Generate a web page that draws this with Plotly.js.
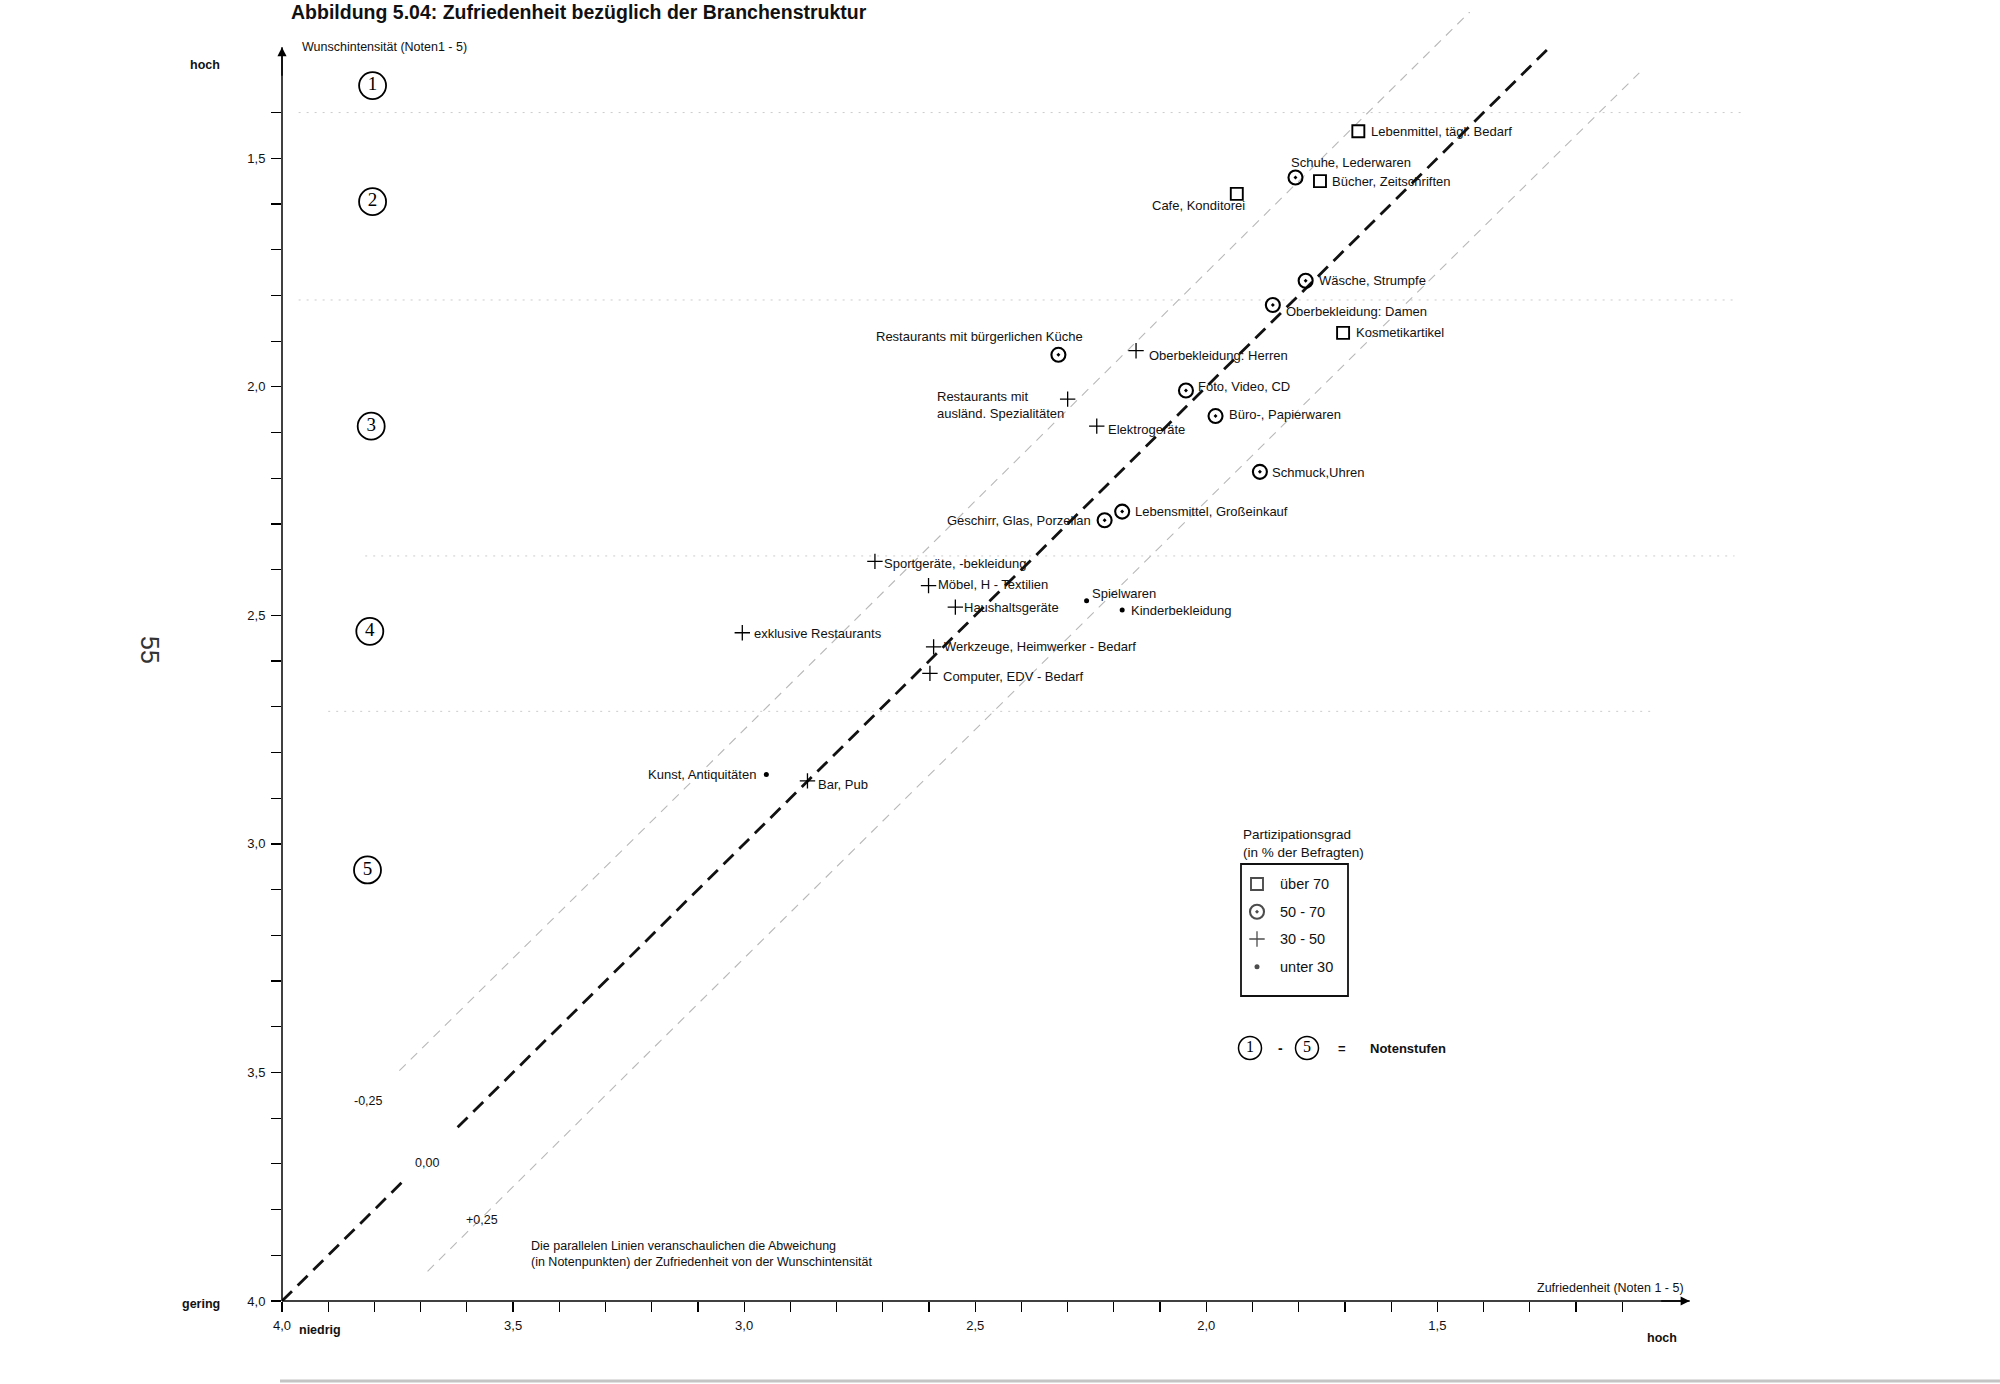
<!DOCTYPE html>
<html><head><meta charset="utf-8">
<script src="https://cdn.plot.ly/plotly-3.0.1.min.js"></script>
<style>html,body{margin:0;padding:0;background:#fff}#chart{width:2000px;height:1384px}</style>
</head><body><div id="chart"></div>
<script>
// ---- data ----
const branches = [
  'Lebenmittel, tägl. Bedarf','Schuhe, Lederwaren','Bücher, Zeitschriften','Cafe, Konditorei',
  'Wäsche, Strumpfe','Oberbekleidung: Damen','Kosmetikartikel','Restaurants mit bürgerlichen Küche',
  'Oberbekleidung: Herren','Foto, Video, CD','Restaurants mit<br>ausländ. Spezialitäten','Büro-, Papierwaren',
  'Elektrogeräte','Schmuck,Uhren','Lebensmittel, Großeinkauf','Geschirr, Glas, Porzellan',
  'Sportgeräte, -bekleidung','Möbel, H - Textilien','Haushaltsgeräte','Spielwaren',
  'Kinderbekleidung','exklusive Restaurants','Werkzeuge, Heimwerker - Bedarf','Computer, EDV - Bedarf',
  'Kunst, Antiquitäten','Bar, Pub'
];
const satisfaction = [1.671,1.807,1.754,1.934,1.785,1.856,1.704,2.320,2.152,2.044,2.300,1.980,2.237,1.884,2.182,2.220,2.717,2.601,2.543,2.259,2.182,3.004,2.590,2.598,2.952,2.863];
const desire       = [1.441,1.542,1.550,1.578,1.768,1.821,1.882,1.930,1.921,2.008,2.027,2.064,2.086,2.186,2.273,2.292,2.382,2.435,2.482,2.468,2.488,2.538,2.569,2.627,2.848,2.862];
const participation = [0,1,0,0,1,1,0,1,2,1,2,1,2,1,1,1,2,2,2,3,3,2,2,2,3,2];
const groupNames = ['über 70','50 - 70','30 - 50','unter 30'];

const noteLabels = ['1','2','3','4','5'];
const noteX = [3.804,3.804,3.807,3.810,3.815];
const noteY = [1.341,1.595,2.086,2.535,3.057];

const bandBounds = [1.40,1.81,2.37,2.71];
const bandFrom   = [3.964,3.964,3.82,3.90];
const bandTo     = [0.84,0.857,0.857,1.03];

const deviations = [-0.25,0,0.25];
const devLabels  = ['-0,25','0,00','+0,25'];

const xTickLabelVals = [4.0,3.5,3.0,2.5,2.0,1.5];
const xTickLabels    = ['4,0','3,5','3,0','2,5','2,0','1,5'];
const yTickLabelVals = [1.5,2.0,2.5,3.0,3.5,4.0];
const yTickLabels    = ['1,5','2,0','2,5','3,0','3,5','4,0'];

// ---- styling / geometry ----
const FONT = 'Liberation Sans, Arial, Helvetica, sans-serif';
const SERIF = 'Liberation Serif, Times New Roman, serif';
const M = {l:282, r:253, t:12, b:83};
const W = 2000, H = 1384;
const PW = W - M.l - M.r, PH = H - M.t - M.b;
const xRange = [4.0, 0.83], yRange = [4.0, 1.18];
const xArrow = 0.954, yArrow = 1.257;
const px = v => (v - M.l) / PW;           // pixel -> paper x
const py = v => (H - M.b - v) / PH;       // pixel -> paper y

// label placement (anchor, dx, dy in px)
const labelPlace = [
  ['left',11,0],['left',-6,15],['left',10,0],['right',10,-12],
  ['left',11,0],['left',11,-6],['left',11,0],['right',27,18],
  ['left',11,-5],['left',10,4],['right',-2,-6],['left',11,2],
  ['left',9,-3],['left',10,-1],['left',11,0],['right',-12,0],
  ['left',7,-2],['left',7,1],['left',7,0],['left',3,7],
  ['left',7,-1],['left',10,-1],['left',8,0],['left',11,-3],
  ['right',-8,0],['left',9,-4]
];

const symbols = ['square-open','circle-open-dot','cross-thin-open','circle'];
const sizes = [12,14,11,5];
const lws = [1.9,2.1,1.3,0];

// ticks
function buildTicks(from, to, labVals, labs){
  const vals=[], txt=[];
  for(let v=from; v>=to; v--){
    const val=v/10; vals.push(val);
    const i = labVals.findIndex(q=>Math.abs(q-val)<1e-6);
    txt.push(i>=0?labs[i]:'');
  }
  return {vals, txt};
}
const xt = buildTicks(40, 11, xTickLabelVals, xTickLabels);
const yt = buildTicks(40, 14, yTickLabelVals, yTickLabels);

const traces = [];

// deviation lines
const devExtent = [[3.746,1.43],[4.0,1.26],[3.685,1.063]];
deviations.forEach((d,i)=>{
  const [a,b] = devExtent[i];
  let xs;
  if(d===0){ xs=[a,3.74,null,3.62,b]; }
  else { xs=[a,b]; }
  const ys = xs.map(v=> v===null?null: v+d);
  traces.push({
    x:xs, y:ys, mode:'lines', hoverinfo:'skip', showlegend:false,
    line: d===0 ? {color:'#111', width:2.8, dash:'14px,8px'} : {color:'#b8b8b8', width:1.1, dash:'9px,7px'}
  });
});

// data points by group
groupNames.forEach((g,gi)=>{
  const idx = participation.map((p,i)=>p===gi?i:-1).filter(i=>i>=0);
  traces.push({
    x: idx.map(i=>satisfaction[i]), y: idx.map(i=>desire[i]),
    mode:'markers', name:g, hoverinfo:'text', text: idx.map(i=>branches[i]), showlegend:false,
    marker:{symbol:symbols[gi], size:sizes[gi], color:'#000', line:{color:'#000', width:lws[gi]}}
  });
});

// Notenstufen circles
traces.push({
  x:noteX, y:noteY, mode:'markers+text', text:noteLabels, textposition:'middle center',
  textfont:{family:SERIF, size:19, color:'#000'}, hoverinfo:'skip', showlegend:false, cliponaxis:false,
  marker:{symbol:'circle-open', size:27, color:'#000', line:{color:'#000', width:1.8}}
});

// legend (overlay pixel axes)
const legY = [884,911.7,939,966.7];
traces.push({
  x:[1257,1257,1257,1257], y:legY, xaxis:'x2', yaxis:'y2', mode:'markers', hoverinfo:'skip', showlegend:false,
  marker:{symbol:symbols, size:sizes, color:'#000', line:{color:'#000', width:lws}}
});
traces.push({
  x:[1250,1307], y:[1048,1048], xaxis:'x2', yaxis:'y2', mode:'markers+text', text:['1','5'],
  textposition:'middle center', textfont:{family:SERIF, size:16, color:'#000'}, hoverinfo:'skip', showlegend:false,
  marker:{symbol:'circle-open', size:23, color:'#000', line:{color:'#000', width:1.5}}
});

const ann = [];
// point labels
branches.forEach((b,i)=>{
  const [xa,dx,dy] = labelPlace[i];
  ann.push({x:satisfaction[i], y:desire[i], xref:'x', yref:'y', text:b, showarrow:false,
    xanchor:xa, yanchor:'middle', xshift:dx, yshift:dy, align:'left',
    font:{family:FONT, size:13, color:'#111'}});
});
// deviation labels
const devLabelPos = [[3.813,3.562],[3.686,3.699],[3.567,3.822]];
devLabels.forEach((t,i)=>ann.push({x:devLabelPos[i][0], y:devLabelPos[i][1], xref:'x', yref:'y', text:t,
  showarrow:false, xanchor:'center', yanchor:'middle', font:{family:FONT, size:12.5, color:'#111'}}));

// generic pixel-positioned text
const txt = (x,y,t,opt={}) => ann.push(Object.assign({x:px(x), y:py(y), xref:'paper', yref:'paper', text:t, showarrow:false,
  xanchor:'center', yanchor:'middle', align:'left', font:{family:FONT, size:12.5, color:'#111'}}, opt));

// legend texts
groupNames.forEach((g,i)=>txt(1278, legY[i], g, {xanchor:'left', font:{family:FONT, size:14.5, color:'#111'}}));
txt(1241, 843, 'Partizipationsgrad<br>(in % der Befragten)', {xanchor:'left', font:{family:FONT, size:13.5, color:'#111'}});
txt(1280, 1048, '<b>-</b>', {font:{family:FONT, size:14, color:'#111'}});
txt(1342, 1048, '<b>=</b>', {font:{family:FONT, size:13, color:'#111'}});
txt(1368, 1048, '<b>Notenstufen</b>', {xanchor:'left', font:{family:FONT, size:13, color:'#111'}});

// axis texts
txt(300,47,'Wunschintensität (Noten1 - 5)',{xanchor:'left'});
txt(205,65,'<b>hoch</b>');
txt(201,1304,'<b>gering</b>');
txt(297,1330,'<b>niedrig</b>',{xanchor:'left'});
txt(1662,1338,'<b>hoch</b>');
txt(1610,1288,'Zufriedenheit (Noten 1 - 5)');
txt(529,1254,'Die parallelen Linien veranschaulichen die Abweichung<br>(in Notenpunkten) der Zufriedenheit von der Wunschintensität',
  {xanchor:'left'});
txt(150,650,'55',{textangle:90, font:{family:FONT, size:25, color:'#333'}});

// axis arrows
const yTopFrac = (yRange[0]-yArrow)/(yRange[0]-yRange[1]);
const xEndFrac = (xRange[0]-xArrow)/(xRange[0]-xRange[1]);
ann.push({x:0, y:yTopFrac, xref:'paper', yref:'paper', ax:0, ay:30, text:'', showarrow:true,
  arrowhead:2, arrowsize:1.3, arrowwidth:1.4, arrowcolor:'#000', standoff:0});
ann.push({x:xEndFrac, y:0, xref:'paper', yref:'paper', ax:-30, ay:0, text:'', showarrow:true,
  arrowhead:2, arrowsize:1.3, arrowwidth:1.4, arrowcolor:'#000', standoff:0});

const shapes = [];
bandBounds.forEach((b,i)=>shapes.push({type:'line', xref:'x', yref:'y', x0:bandFrom[i], x1:bandTo[i], y0:b, y1:b,
  line:{color:'#cccccc', width:1, dash:'2px,6px'}, layer:'below'}));
// axis lines
shapes.push({type:'line', xref:'paper', yref:'paper', x0:0, x1:0, y0:0, y1:yTopFrac, line:{color:'#000', width:1.5}});
shapes.push({type:'line', xref:'paper', yref:'paper', x0:0, x1:xEndFrac, y0:0, y1:0, line:{color:'#000', width:1.6}});
// legend box
shapes.push({type:'rect', xref:'x2', yref:'y2', x0:1241, x1:1348, y0:864, y1:996, line:{color:'#111', width:1.8}});
// scan edge at bottom
shapes.push({type:'line', xref:'paper', yref:'paper', x0:px(280), x1:px(2000), y0:py(1381), y1:py(1381), line:{color:'#c4c4c4', width:3}});

const axisCommon = {showgrid:false, zeroline:false, showline:false, ticks:'outside', ticklen:10, tickwidth:1.2,
  tickcolor:'#000', tickmode:'array', tickfont:{family:FONT, size:13, color:'#111'}, fixedrange:true};

const layout = {
  width:W, height:H, margin:{l:M.l, r:M.r, t:M.t, b:M.b, pad:0},
  paper_bgcolor:'#fff', plot_bgcolor:'rgba(0,0,0,0)', showlegend:false,
  title:{text:'Abbildung 5.04: Zufriedenheit bezüglich der Branchenstruktur', x:291/W, xanchor:'left', xref:'container',
    y:1-12/H, yanchor:'middle', yref:'container', font:{family:FONT, size:19.5, weight:700, color:'#111'}},
  xaxis: Object.assign({}, axisCommon, {range:xRange, autorange:false, tickvals:xt.vals, ticktext:xt.txt, ticklabelstandoff:2}),
  yaxis: Object.assign({}, axisCommon, {range:yRange, autorange:false, tickvals:yt.vals, ticktext:yt.txt, ticklabelstandoff:3}),
  xaxis2:{overlaying:'x', range:[M.l, M.l+PW], autorange:false, visible:false, fixedrange:true},
  yaxis2:{overlaying:'y', range:[H-M.b, M.t], autorange:false, visible:false, fixedrange:true},
  annotations:ann, shapes:shapes, hovermode:'closest'
};

Plotly.newPlot('chart', traces, layout, {displayModeBar:false, staticPlot:true});
</script></body></html>
